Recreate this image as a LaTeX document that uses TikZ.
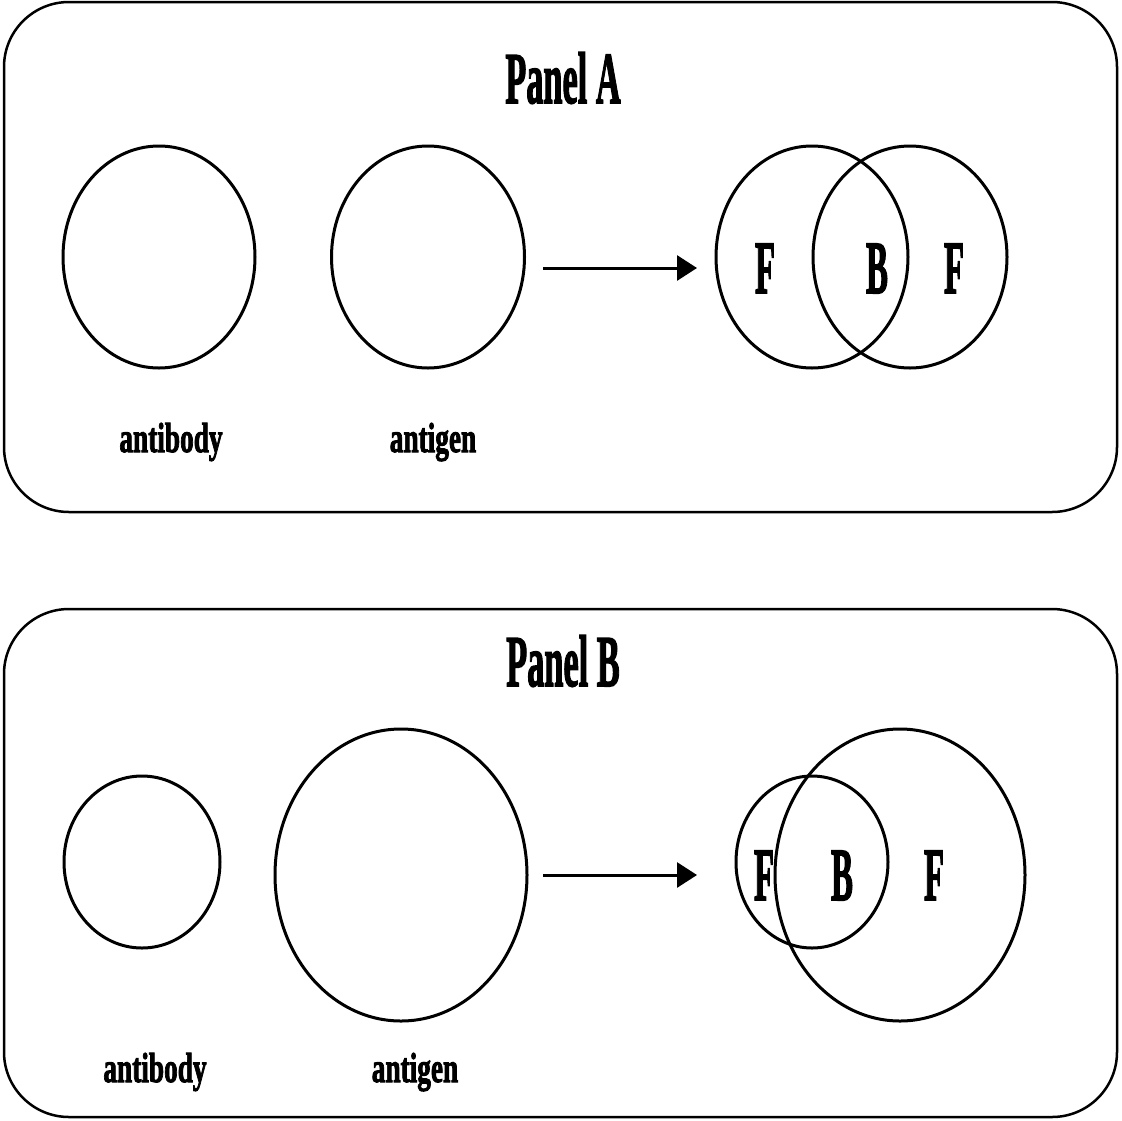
\documentclass[tikz,border=0pt]{standalone}
\usepackage{fontspec}
\setmainfont{Liberation Serif}
\newfontfamily\heavyserif[FakeBold=2.5]{Liberation Serif Bold}
\usetikzlibrary{shapes.geometric,arrows.meta}

\begin{document}
\begin{tikzpicture}[x=1pt,y=-1pt,
  panel/.style={line width=2.5pt,rounded corners=65pt},
  blob/.style={draw,ellipse,line width=3pt,inner sep=0pt,outer sep=0pt},
  title/.style={anchor=base,inner sep=0pt,font=\heavyserif\fontsize{73}{73}\selectfont},
  region/.style={anchor=base,inner sep=0pt,font=\heavyserif\fontsize{75}{75}\selectfont},
  caption/.style={anchor=base,inner sep=0pt,font=\heavyserif\fontsize{42}{42}\selectfont},
  flow/.style={line width=3pt,-{Triangle[length=20pt,width=25pt]}}
]
\useasboundingbox (0,0) rectangle (1122,1120);

% ---------- Panel A ----------
\draw[panel] (4,2) rectangle (1117,512);
\node[title] (titleA) at (563,103) {\scalebox{0.47}[1]{Panel A}};

\node[blob,minimum width=192pt,minimum height=222pt] (abA) at (159,257) {};
\node[blob,minimum width=193pt,minimum height=222pt] (agA) at (428,257) {};
\node[blob,minimum width=192pt,minimum height=222pt] (vA1) at (812,257) {};
\node[blob,minimum width=194pt,minimum height=222pt] (vA2) at (910,257) {};

\coordinate (arrAs) at (543,268);
\coordinate (arrAe) at (697,268);
\draw[flow] (arrAs) -- (arrAe);

\node[region] (fA1) at (765,293) {\scalebox{0.44}[1]{F}};
\node[region] (bA)  at (877,293) {\scalebox{0.44}[1]{B}};
\node[region] (fA2) at (954,293) {\scalebox{0.44}[1]{F}};

\node[caption] (labAbA) at (171,452) {\scalebox{0.65}[1]{antibody}};
\node[caption] (labAgA) at (433,452) {\scalebox{0.65}[1]{antigen}};

% ---------- Panel B ----------
\draw[panel] (4,609) rectangle (1117,1117);
\node[title] (titleB) at (563,686) {\scalebox{0.47}[1]{Panel B}};

\node[blob,minimum width=156pt,minimum height=172pt] (abB) at (142,862) {};
\node[blob,minimum width=252pt,minimum height=292pt] (agB) at (401,875) {};
\node[blob,minimum width=152pt,minimum height=172pt] (vB1) at (812,862) {};
\node[blob,minimum width=250pt,minimum height=292pt] (vB2) at (900,875) {};

\coordinate (arrBs) at (543,875);
\coordinate (arrBe) at (697,875);
\draw[flow] (arrBs) -- (arrBe);

\node[region] (fB1) at (764,900) {\scalebox{0.44}[1]{F}};
\node[region] (bB)  at (842,900) {\scalebox{0.44}[1]{B}};
\node[region] (fB2) at (934,900) {\scalebox{0.44}[1]{F}};

\node[caption] (labAbB) at (155,1082) {\scalebox{0.65}[1]{antibody}};
\node[caption] (labAgB) at (415,1082) {\scalebox{0.65}[1]{antigen}};
\end{tikzpicture}
\end{document}
